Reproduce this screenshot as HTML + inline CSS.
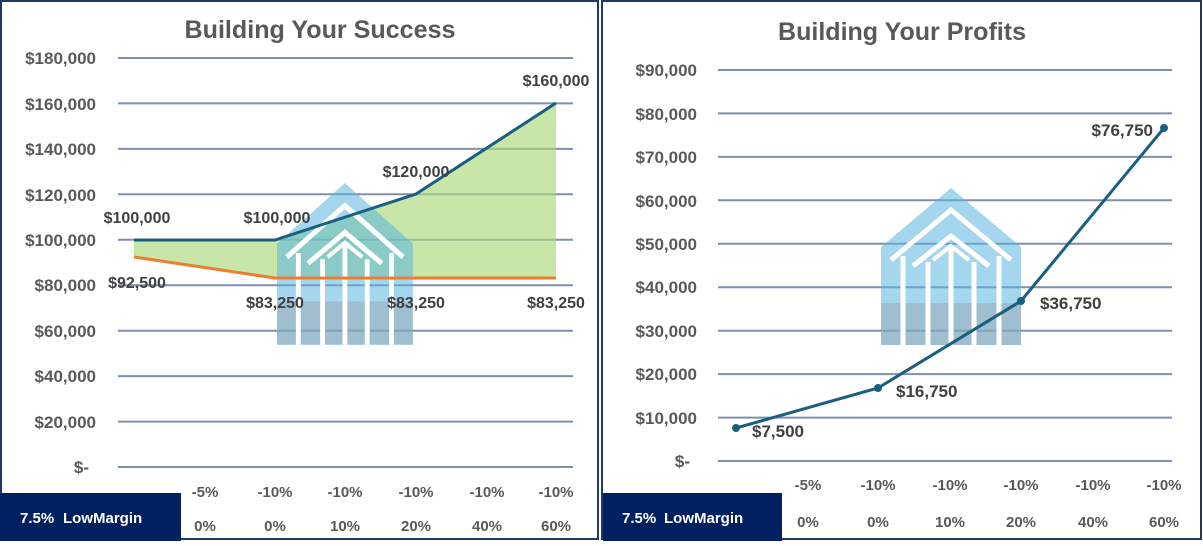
<!DOCTYPE html>
<html><head><meta charset="utf-8"><style>
body{margin:0;background:#fff;}
svg text{font-family:"Liberation Sans",Arial,sans-serif;font-weight:bold;}
</style></head><body>
<svg width="1203" height="541" viewBox="0 0 1203 541" xmlns="http://www.w3.org/2000/svg">
<defs>
<g id="house">
<polygon points="0,59 70,0 140,59 140,157 0,157" fill="#5ab4e0" opacity="0.55"/>
<rect x="0" y="115" width="140" height="42" fill="#9aa4ae" opacity="0.45"/>
<polyline points="10,72 70,22 130,72" fill="none" stroke="#fff" stroke-width="5"/>
<polyline points="32,78 70,48 108,78" fill="none" stroke="#fff" stroke-width="5"/>
<polyline points="52,72 70,58 88,72" fill="none" stroke="#fff" stroke-width="4"/>
<g stroke="#fff" stroke-width="5">
<line x1="22" y1="68" x2="22" y2="157"/><line x1="47" y1="74" x2="47" y2="157"/>
<line x1="70" y1="60" x2="70" y2="157"/><line x1="93" y1="74" x2="93" y2="157"/>
<line x1="118" y1="68" x2="118" y2="157"/>
</g>
</g>
</defs>
<rect x="1" y="1" width="597" height="538" fill="#fff" stroke="#1f3864" stroke-width="2"/>
<rect x="602" y="1" width="599" height="538" fill="#fff" stroke="#1f3864" stroke-width="2"/>
<text x="320" y="38" text-anchor="middle" font-size="25" fill="#595959" textLength="271" lengthAdjust="spacingAndGlyphs">Building Your Success</text>
<text x="902" y="40" text-anchor="middle" font-size="25" fill="#595959" textLength="248" lengthAdjust="spacingAndGlyphs">Building Your Profits</text>

<g stroke="#7f8fb0" stroke-width="2">
<line x1="118" x2="573" y1="58" y2="58"/><line x1="118" x2="573" y1="103.4" y2="103.4"/>
<line x1="118" x2="573" y1="148.9" y2="148.9"/><line x1="118" x2="573" y1="194.3" y2="194.3"/>
<line x1="118" x2="573" y1="239.8" y2="239.8"/><line x1="118" x2="573" y1="285.2" y2="285.2"/>
<line x1="118" x2="573" y1="330.7" y2="330.7"/><line x1="118" x2="573" y1="376.1" y2="376.1"/>
<line x1="118" x2="573" y1="421.6" y2="421.6"/><line x1="118" x2="573" y1="467" y2="467"/>
</g>
<g font-size="17" fill="#595959" text-anchor="end">
<text x="96" y="64">$180,000</text><text x="96" y="110">$160,000</text><text x="96" y="155">$140,000</text>
<text x="96" y="201">$120,000</text><text x="96" y="246">$100,000</text><text x="96" y="291">$80,000</text>
<text x="96" y="337">$60,000</text><text x="96" y="382">$40,000</text><text x="96" y="428">$20,000</text>
<text x="89" y="473">$-</text>
</g>
<polygon points="134,240 275,240 416,194 556,103 556,278 416,278 275,278 134,257" fill="#a9d97a" opacity="0.65"/>
<use href="#house" transform="translate(277,183) scale(0.97,1.03)"/>
<polyline points="134,240 275,240 416,194 556,103" fill="none" stroke="#1a5e80" stroke-width="3"/>
<polyline points="134,257 275,278 416,278 556,278" fill="none" stroke="#ed7d31" stroke-width="3"/>
<g font-size="16" fill="#404040" text-anchor="middle">
<text x="137" y="223">$100,000</text><text x="277" y="223">$100,000</text>
<text x="416" y="177">$120,000</text><text x="556" y="86">$160,000</text>
<text x="137" y="288">$92,500</text><text x="275" y="308">$83,250</text>
<text x="416" y="308">$83,250</text><text x="556" y="308">$83,250</text>
</g>
<g font-size="15" fill="#595959" text-anchor="middle">
<text x="205" y="497">-5%</text><text x="275" y="497">-10%</text><text x="345" y="497">-10%</text>
<text x="416" y="497">-10%</text><text x="487" y="497">-10%</text><text x="556" y="497">-10%</text>
<text x="205" y="531">0%</text><text x="275" y="531">0%</text><text x="345" y="531">10%</text>
<text x="416" y="531">20%</text><text x="487" y="531">40%</text><text x="556" y="531">60%</text>
</g>
<rect x="0" y="493" width="181" height="48" fill="#002060"/>
<text x="20" y="523" font-size="15" fill="#fff">7.5%</text><text x="63" y="523" font-size="15" fill="#fff">LowMargin</text>

<g stroke="#7f8fb0" stroke-width="2">
<line x1="718" x2="1172" y1="70" y2="70"/><line x1="718" x2="1172" y1="113.4" y2="113.4"/>
<line x1="718" x2="1172" y1="156.9" y2="156.9"/><line x1="718" x2="1172" y1="200.3" y2="200.3"/>
<line x1="718" x2="1172" y1="243.8" y2="243.8"/><line x1="718" x2="1172" y1="287.2" y2="287.2"/>
<line x1="718" x2="1172" y1="330.7" y2="330.7"/><line x1="718" x2="1172" y1="374.1" y2="374.1"/>
<line x1="718" x2="1172" y1="417.6" y2="417.6"/><line x1="718" x2="1172" y1="461" y2="461"/>
</g>
<g font-size="17" fill="#595959" text-anchor="end">
<text x="697" y="76">$90,000</text><text x="697" y="120">$80,000</text><text x="697" y="163">$70,000</text>
<text x="697" y="207">$60,000</text><text x="697" y="250">$50,000</text><text x="697" y="293">$40,000</text>
<text x="697" y="337">$30,000</text><text x="697" y="380">$20,000</text><text x="697" y="424">$10,000</text>
<text x="690" y="467">$-</text>
</g>
<use href="#house" transform="translate(881,188)"/>
<polyline points="736,428 878,388 1021,301 1164,128" fill="none" stroke="#1a5e80" stroke-width="3"/>
<g fill="#1a5e80"><circle cx="736" cy="428" r="4"/><circle cx="878" cy="388" r="4"/><circle cx="1021" cy="301" r="4"/><circle cx="1164" cy="128" r="4"/></g>
<g font-size="17" fill="#404040">
<text x="752" y="437">$7,500</text><text x="896" y="397">$16,750</text>
<text x="1040" y="309">$36,750</text><text x="1153" y="136" text-anchor="end">$76,750</text>
</g>
<g font-size="15" fill="#595959" text-anchor="middle">
<text x="808" y="490">-5%</text><text x="878" y="490">-10%</text><text x="950" y="490">-10%</text>
<text x="1021" y="490">-10%</text><text x="1093" y="490">-10%</text><text x="1164" y="490">-10%</text>
<text x="808" y="527">0%</text><text x="878" y="527">0%</text><text x="950" y="527">10%</text>
<text x="1021" y="527">20%</text><text x="1093" y="527">40%</text><text x="1164" y="527">60%</text>
</g>
<rect x="603" y="493" width="179" height="48" fill="#002060"/>
<text x="622" y="523" font-size="15" fill="#fff">7.5%</text><text x="664" y="523" font-size="15" fill="#fff">LowMargin</text>
</svg>
</body></html>
